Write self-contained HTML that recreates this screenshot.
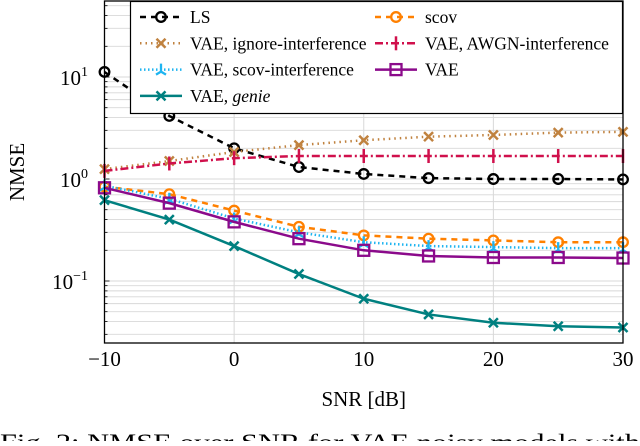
<!DOCTYPE html>
<html><head><meta charset="utf-8"><style>
body{margin:0;background:#fff;width:640px;height:441px;overflow:hidden}
svg text{font-family:"Liberation Serif",serif;fill:#000}
</style></head><body>
<svg id="c" width="640" height="441"></svg>
<script>
const snr=[-10,-5,0,5,10,15,20,25,30];
const xTicks=[-10,0,10,20,30];
const ls=[11.2,4.15,2.0,1.31,1.12,1.02,1.0,1.0,0.99];
const ignoreI=[1.25,1.5,1.84,2.15,2.4,2.6,2.7,2.85,2.9];
const awgnI=[1.2,1.42,1.6,1.68,1.68,1.68,1.68,1.68,1.68];
const scov=[0.84,0.71,0.49,0.34,0.28,0.26,0.25,0.24,0.24];
const scovI=[0.86,0.64,0.41,0.30,0.24,0.22,0.215,0.21,0.21];
const vae=[0.82,0.58,0.38,0.26,0.20,0.176,0.17,0.17,0.168];
const genie=[0.62,0.40,0.22,0.117,0.067,0.047,0.039,0.036,0.035];
const NS='http://www.w3.org/2000/svg',svg=document.getElementById('c');
const L=104.5,R=623,T=1,B=343,y0=179,dec=102;
const X=v=>L+(v+10)/40*(R-L);
const Y=v=>y0-Math.log10(v)*dec;
function el(t,a,p){const e=document.createElementNS(NS,t);for(const k in a)e.setAttribute(k,a[k]);(p||svg).appendChild(e);return e;}
const grid=el('g',{});


for(let d=-2;d<=1;d++)for(let m=1;m<10;m++){const y=Y(m*Math.pow(10,d));if(y<T||y>B)continue;
el('line',{x1:L,x2:R,y1:y,y2:y,stroke:'#d8d8d8','stroke-width':m==1?1:0.9},grid);
el('line',{x1:L,x2:L+(m==1?5:3),y1:y,y2:y,stroke:'#000','stroke-width':0.8},grid);}
xTicks.forEach(v=>{el('line',{x1:X(v),x2:X(v),y1:T,y2:B,stroke:'#d8d8d8'},grid);
const t=el('text',{x:X(v),y:366,'text-anchor':'middle','font-size':21});t.textContent=v<0?'\u2212'+(-v):v;
});
[[1,'10','1'],[0,'10','0'],[-1,'10','\u22121']].forEach(([d,b,e])=>{const t=el('text',{x:88,y:Y(Math.pow(10,d))+8,'text-anchor':'end','font-size':21});
t.innerHTML=b+'<tspan dy="-9" font-size="14">'+e+'</tspan>';});
const series=[
 {n:'ls',d:ls,c:'#000',da:'6,5',w:2.5,m:'o'},
 {n:'ignore-interference',d:ignoreI,c:'#c0823f',da:'1.5,4',w:2.5,m:'x'},
 {n:'awgn-interference',d:awgnI,c:'#d0104c',da:'8,3,2,3',w:2.5,m:'|'},
 {n:'scov',d:scov,c:'#ff8000',da:'6,5',w:2.5,m:'o'},
 {n:'scov-interference',d:scovI,c:'#1eb4f0',da:'1.5,2.5',w:2.5,m:'y'},
 {n:'vae',d:vae,c:'#8b0a8b',da:'',w:2.5,m:'s'},
 {n:'genie',d:genie,c:'#008080',da:'',w:2.5,m:'x'}];
function mark(g,m,x,y,c){
 if(m=='o')el('circle',{cx:x,cy:y,r:4.8,fill:'none',stroke:c,'stroke-width':2.3},g);
 else if(m=='x'){el('path',{d:`M${x-4.5} ${y-4.5}L${x+4.5} ${y+4.5}M${x-4.5} ${y+4.5}L${x+4.5} ${y-4.5}`,stroke:c,'stroke-width':2.5},g);}
 else if(m=='|')el('path',{d:`M${x} ${y-7}V${y+7}`,stroke:c,'stroke-width':2.5},g);
 else if(m=='y')el('path',{d:`M${x} ${y-6}V${y+2}M${x} ${y+2}L${x-5} ${y+5}M${x} ${y+2}L${x+5} ${y+5}`,stroke:c,'stroke-width':2.3},g);
 else if(m=='s')el('rect',{x:x-5.5,y:y-5.5,width:11,height:11,fill:'none',stroke:c,'stroke-width':2.3},g);
}
series.forEach(s=>{const g=el('g',{});
 
 
 el('polyline',{points:s.d.map((v,i)=>X(snr[i])+','+Y(v)).join(' '),fill:'none',stroke:s.c,'stroke-width':s.w,'stroke-dasharray':s.da},g);
 s.d.forEach((v,i)=>mark(g,s.m,X(snr[i]),Y(v),s.c));});
el('rect',{x:L,y:T,width:R-L,height:B-T,fill:'none',stroke:'#000','stroke-width':1.3});
const lg=el('g',{});


el('rect',{x:130.5,y:1.5,width:492,height:112,fill:'#fff',stroke:'#000','stroke-width':1.2},lg);
const labels=['LS','VAE, ignore-interference','VAE, AWGN-interference','scov','VAE, scov-interference','VAE','VAE, <tspan font-style="italic">genie</tspan>'];
const pos=[[140,0],[140,1],[375,1],[375,0],[140,2],[375,2],[140,3]];
series.forEach((s,i)=>{const [lx,r]=pos[i];const y=17+r*26.3;
 const e=el('g',{},lg);
 el('line',{x1:lx,x2:lx+42,y1:y,y2:y,stroke:s.c,'stroke-width':2.5,'stroke-dasharray':s.da},e);
 mark(e,s.m,lx+21,y,s.c);
 const t=el('text',{x:lx+50,y:y+6,'font-size':17.5},e);t.innerHTML=labels[i];});
const yt=el('text',{x:0,y:0,'font-size':21,'text-anchor':'middle',transform:'translate(24,172) rotate(-90)'});yt.textContent='NMSE';

const xt=el('text',{x:X(10),y:406,'font-size':21,'text-anchor':'middle'});xt.textContent='SNR [dB]';

const cap=el('text',{x:0,y:450,'font-size':23,textLength:640,lengthAdjust:'spacingAndGlyphs'});cap.textContent='Fig. 2: NMSE over SNR for VAE noisy models with';

</script>
</body></html>
